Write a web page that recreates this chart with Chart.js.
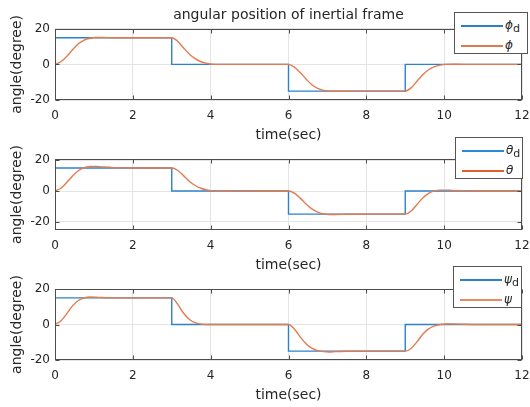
<!DOCTYPE html>
<html>
<head>
<meta charset="utf-8">
<script src="https://cdn.jsdelivr.net/npm/chart.js@4.4.0/dist/chart.umd.min.js"></script>
<style>
  body { margin: 0; background: #fff; width: 530px; height: 407px; overflow: hidden; position: relative;
         font-family: "DejaVu Sans", sans-serif; }
  .panel { position: absolute; left: 0; width: 530px; height: 145px; }
  .legend { position: absolute; background: #fff; border: 1px solid #555; box-sizing: border-box; z-index: 5;
            font-size: 12px; color: #262626; }
  .row { position: absolute; left: 0; right: 0; height: 16px; }
  .swatch { position: absolute; left: 6px; width: 42px; top: 7px; height: 1.5px; }
  .lab { position: absolute; left: 50px; top: 0px; font-style: italic; line-height: 14px; }
  .lab sub { font-style: normal; font-size: 11px; vertical-align: -3px; }
</style>
</head>
<body>
<div class="panel" style="top:0px"><canvas id="c1"></canvas></div>
<div class="panel" style="top:130px"><canvas id="c2"></canvas></div>
<div class="panel" style="top:260px"><canvas id="c3"></canvas></div>

<div class="legend" style="left:454px;top:12px;width:74px;height:42px">
  <div class="row" style="top:5px"><div class="swatch" style="background:#2b7fc4"></div><div class="lab">ϕ<sub>d</sub></div></div>
  <div class="row" style="top:25px"><div class="swatch" style="background:#e07a4e"></div><div class="lab">ϕ</div></div>
</div>
<div class="legend" style="left:455px;top:137px;width:68px;height:42px">
  <div class="row" style="top:5px"><div class="swatch" style="background:#2b8ad6"></div><div class="lab">θ<sub>d</sub></div></div>
  <div class="row" style="top:25px"><div class="swatch" style="background:#e0602c"></div><div class="lab">θ</div></div>
</div>
<div class="legend" style="left:453px;top:266px;width:69px;height:42px">
  <div class="row" style="top:5px"><div class="swatch" style="background:#2b82cc"></div><div class="lab">ψ<sub>d</sub></div></div>
  <div class="row" style="top:25px"><div class="swatch" style="background:#ea8a64"></div><div class="lab">ψ</div></div>
</div>

<script>
// Axis ticks
const xTicks = [0, 2, 4, 6, 8, 10, 12];
const yTicks = [-20, 0, 20];

// Commanded (desired) angles: piecewise-constant steps, in degrees
const refTime      = [0, 3, 3, 6, 6, 9, 9, 12];
const phiDesired   = [15, 15, 0, 0, -15, -15, 0, 0];
const thetaDesired = [15, 15, 0, 0, -15, -15, 0, 0];
const psiDesired   = [15, 15, 0, 0, -15, -15, 0, 0];

// Simulated response sample times (s)
const respTime = [
  0, 0.15, 0.3, 0.45, 0.6, 0.75, 0.9, 1.05, 1.2, 1.5, 2, 2.5,
  3, 3.15, 3.3, 3.45, 3.6, 3.75, 3.9, 4.05, 4.2, 4.5, 5, 5.5,
  6, 6.15, 6.3, 6.45, 6.6, 6.75, 6.9, 7.05, 7.2, 7.5, 8, 8.5,
  9, 9.15, 9.3, 9.45, 9.6, 9.75, 9.9, 10.05, 10.2, 10.5, 11, 12
];

// Actual roll angle (deg)
const phiActual = [
  0, 1.5, 4.5, 8.2, 11.6, 13.7, 14.7, 15.1, 15.1, 15.0, 15, 15,
  15, 13.0, 9.3, 5.8, 3.2, 1.5, 0.6, 0.1, 0, 0, 0, 0,
  0, -1.5, -4.6, -8.2, -11.4, -13.5, -14.6, -15.0, -15.1, -15.0, -15, -15,
  -15, -13.2, -9.5, -5.8, -3.0, -1.3, -0.4, 0, 0.1, 0, 0, 0
];

// Actual pitch angle (deg)
const thetaActual = [
  0, 1.8, 5.5, 9.8, 13.2, 15.2, 15.9, 16.0, 15.7, 15.2, 15, 15,
  15, 13.5, 10.0, 6.4, 3.6, 1.8, 0.7, 0.1, -0.2, -0.1, 0, 0,
  0, -1.4, -4.6, -8.4, -11.6, -13.7, -14.8, -15.2, -15.2, -15.1, -15, -15,
  -15, -13.0, -8.8, -4.5, -1.5, 0.1, 0.6, 0.6, 0.4, 0.1, 0, 0
];

// Actual yaw angle (deg)
const psiActual = [
  0, 2.0, 6.0, 10.5, 13.5, 15.0, 15.5, 15.4, 15.2, 15.0, 15, 15,
  15, 11.5, 6.5, 3.0, 1.0, 0.2, 0, 0, 0, 0, 0, 0,
  0, -2.5, -7.0, -10.8, -13.3, -14.7, -15.3, -15.5, -15.3, -15.1, -15, -15,
  -15, -13.5, -9.8, -5.5, -2.5, -0.8, 0, 0.3, 0.3, 0.1, 0, 0
];

const FONT = '"DejaVu Sans", sans-serif';
const TEXT = '#262626';
const BLUE = '#2b82cc';
const ORANGE = '#e47b4e';

function pairs(xs, ys) { return xs.map((x, i) => ({ x, y: ys[i] })); }

// Frame around the plot area plus short inward tick marks
const axesBox = {
  id: 'axesBox',
  afterDraw(chart) {
    const { ctx, chartArea: a, scales: { x, y } } = chart;
    const L = Math.round(a.left) + 0.5, R = Math.round(a.right) - 0.5;
    const T = Math.round(a.top) + 0.5, B = Math.round(a.bottom) - 0.5;
    ctx.save();
    ctx.strokeStyle = '#4d4d4d';
    ctx.lineWidth = 1;
    ctx.strokeRect(L, T, R - L, B - T);
    ctx.beginPath();
    x.ticks.forEach(t => {
      const px = Math.round(x.getPixelForValue(t.value)) + 0.5;
      ctx.moveTo(px, B); ctx.lineTo(px, B - 4);
      ctx.moveTo(px, T); ctx.lineTo(px, T + 4);
    });
    y.ticks.forEach(t => {
      const py = Math.round(y.getPixelForValue(t.value)) + 0.5;
      ctx.moveTo(L, py); ctx.lineTo(L + 4, py);
      ctx.moveTo(R, py); ctx.lineTo(R - 4, py);
    });
    ctx.stroke();
    ctx.restore();
  }
};

function makeChart(id, desired, actual, yMin, yMax, withTitle) {
  return new Chart(document.getElementById(id), {
    type: 'line',
    data: {
      datasets: [
        { data: pairs(refTime, desired), borderColor: BLUE, borderWidth: 1.4,
          pointRadius: 0, tension: 0, order: 1 },
        { data: pairs(respTime, actual), borderColor: ORANGE, borderWidth: 1.4,
          pointRadius: 0, cubicInterpolationMode: 'monotone', order: 0 }
      ]
    },
    options: {
      responsive: true,
      maintainAspectRatio: false,
      animation: false,
      events: [],
      layout: { padding: { top: withTitle ? 0 : 29, left: 0, right: 0, bottom: 0 } },
      plugins: {
        legend: { display: false },
        tooltip: { enabled: false },
        title: {
          display: withTitle,
          text: 'angular position of inertial frame',
          fullSize: false,
          color: TEXT,
          font: { family: FONT, size: 14, weight: 'normal' },
          padding: { top: 7, bottom: 5 }
        }
      },
      scales: {
        x: {
          type: 'linear', min: 0, max: 12,
          afterBuildTicks: s => { s.ticks = xTicks.map(v => ({ value: v })); },
          afterFit: s => { s.height = 45; s.paddingLeft = 0; s.paddingRight = 8; },
          grid: { color: '#e4e4e4', drawTicks: false },
          border: { display: false },
          ticks: { padding: 9, color: TEXT, autoSkip: false, maxRotation: 0,
                   font: { family: FONT, size: 12 } },
          title: { display: true, text: 'time(sec)', color: TEXT,
                   font: { family: FONT, size: 14 }, padding: { top: 0, bottom: 1 } }
        },
        y: {
          min: yMin, max: yMax,
          afterBuildTicks: s => { s.ticks = yTicks.map(v => ({ value: v })); },
          afterFit: s => { s.width = 55; },
          grid: { color: '#e4e4e4', drawTicks: false },
          border: { display: false },
          ticks: { padding: 5, color: TEXT, font: { family: FONT, size: 12 } },
          title: { display: true, text: 'angle(degree)', color: TEXT,
                   font: { family: FONT, size: 14 }, padding: { top: 9, bottom: 0 } }
        }
      }
    },
    plugins: [axesBox]
  });
}

makeChart('c1', phiDesired, phiActual, -20, 20, true);
makeChart('c2', thetaDesired, thetaActual, -25.3, 20.8, false);
makeChart('c3', psiDesired, psiActual, -20, 20, false);
</script>
</body>
</html>
